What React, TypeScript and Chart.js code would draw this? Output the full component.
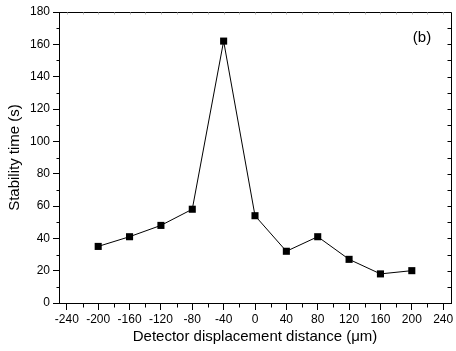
import React, { useEffect, useRef } from "react";
import { Chart, registerables } from "chart.js";

Chart.register(...registerables);

const displacement = [-200, -160, -120, -80, -40, 0, 40, 80, 120, 160, 200];
const stabilityTime = [35, 41, 48, 58, 162, 54, 32, 41, 27, 18, 20];

const xMajorTicks = [-240, -200, -160, -120, -80, -40, 0, 40, 80, 120, 160, 200, 240];
const xMinorTicks = [-220, -180, -140, -100, -60, -20, 20, 60, 100, 140, 180, 220];
const xTopTicks = [-240, -220, -200, -180, -160, -140, -120, -100, -80, -60, -40, -20, 0, 20, 40, 60, 80, 100, 120, 140, 160, 180, 200, 220, 240];
const yMajorTicks = [0, 20, 40, 60, 80, 100, 120, 140, 160, 180];
const yMinorTicks = [10, 30, 50, 70, 90, 110, 130, 150, 170];
const yRightTicks = [10, 20, 30, 40, 50, 60, 70, 80, 90, 100, 110, 120, 130, 140, 150, 160, 170];

const panelLabel = "(b)";
const panelLabelPos = { x: 213, y: 164 };

const FONT = "'Liberation Sans', Arial, Helvetica, sans-serif";

const frameTicks = {
  id: "frameTicks",
  afterDraw(chart: any) {
    const { ctx, chartArea, scales } = chart;
    const { left, right, top, bottom } = chartArea;
    const x = scales.x;
    const y = scales.y;
    const r = (v: number) => Math.round(v) + 0.5;
    ctx.save();
    ctx.strokeStyle = "#000";
    ctx.lineWidth = 1;
    ctx.beginPath();
    ctx.moveTo(r(left), r(top));
    ctx.lineTo(r(right), r(top));
    ctx.lineTo(r(right), r(bottom));
    ctx.stroke();
    ctx.beginPath();
    xMinorTicks.forEach((v) => {
      const px = r(x.getPixelForValue(v));
      ctx.moveTo(px, r(bottom));
      ctx.lineTo(px, r(bottom) + 4);
    });
    yMinorTicks.forEach((v) => {
      const py = r(y.getPixelForValue(v));
      ctx.moveTo(r(left) - 3, py);
      ctx.lineTo(r(left), py);
    });
    yRightTicks.forEach((v) => {
      const py = r(y.getPixelForValue(v));
      ctx.moveTo(r(right) - 4, py);
      ctx.lineTo(r(right), py);
    });
    ctx.stroke();
    ctx.strokeStyle = "#bbb";
    ctx.beginPath();
    xTopTicks.forEach((v) => {
      const px = r(x.getPixelForValue(v));
      ctx.moveTo(px, r(top));
      ctx.lineTo(px, r(top) + 2);
    });
    ctx.stroke();
    ctx.fillStyle = "#000";
    ctx.font = `15px ${FONT}`;
    ctx.textAlign = "center";
    ctx.textBaseline = "middle";
    ctx.fillText(panelLabel, x.getPixelForValue(panelLabelPos.x), y.getPixelForValue(panelLabelPos.y));
    ctx.restore();
  },
};

export default function App() {
  const ref = useRef<HTMLCanvasElement | null>(null);
  useEffect(() => {
    document.body.style.margin = "0";
    const canvas = ref.current;
    if (!canvas) return;
    const chart = new Chart(canvas, {
      type: "scatter",
      data: {
        datasets: [
          {
            data: displacement.map((d, i) => ({ x: d, y: stabilityTime[i] })),
            showLine: true,
            borderColor: "#000",
            borderWidth: 1,
            backgroundColor: "#000",
            pointStyle: "rect",
            pointRadius: 5,
            pointBorderWidth: 0,
            pointHoverRadius: 5,
          },
        ],
      },
      options: {
        animation: false,
        responsive: false,
        events: [],
        layout: { padding: { top: 12, right: 3, left: 0, bottom: 0 } },
        plugins: { legend: { display: false }, tooltip: { enabled: false } },
        scales: {
          x: {
            type: "linear",
            min: -250,
            max: 250,
            afterBuildTicks: (scale: any) => {
              scale.ticks = xMajorTicks.map((v) => ({ value: v }));
            },
            afterFit: (scale: any) => {
              scale.height = 48;
            },
            ticks: {
              color: "#000",
              font: { family: FONT, size: 12 },
              padding: 2,
              maxRotation: 0,
              autoSkip: false,
            },
            grid: {
              display: true,
              drawOnChartArea: false,
              drawTicks: true,
              tickLength: 7,
              color: "#000",
            },
            border: { display: true, color: "#000", width: 1 },
            title: {
              display: true,
              text: "Detector displacement distance (μm)",
              color: "#000",
              font: { family: FONT, size: 15 },
              padding: { top: 0, bottom: 5 },
            },
          },
          y: {
            type: "linear",
            min: 0,
            max: 180,
            afterBuildTicks: (scale: any) => {
              scale.ticks = yMajorTicks.map((v) => ({ value: v }));
            },
            afterFit: (scale: any) => {
              scale.width = 59;
            },
            ticks: {
              color: "#000",
              font: { family: FONT, size: 12 },
              padding: 3,
            },
            grid: {
              display: true,
              drawOnChartArea: false,
              drawTicks: true,
              tickLength: 6,
              color: "#000",
            },
            border: { display: true, color: "#000", width: 1 },
            title: {
              display: true,
              text: "Stability time (s)",
              color: "#000",
              font: { family: FONT, size: 15 },
              padding: { top: 6, bottom: 0 },
            },
          },
        },
      },
      plugins: [frameTicks],
    } as any);
    return () => chart.destroy();
  }, []);
  return <canvas ref={ref} width={456} height={351} style={{ display: "block" }} />;
}
